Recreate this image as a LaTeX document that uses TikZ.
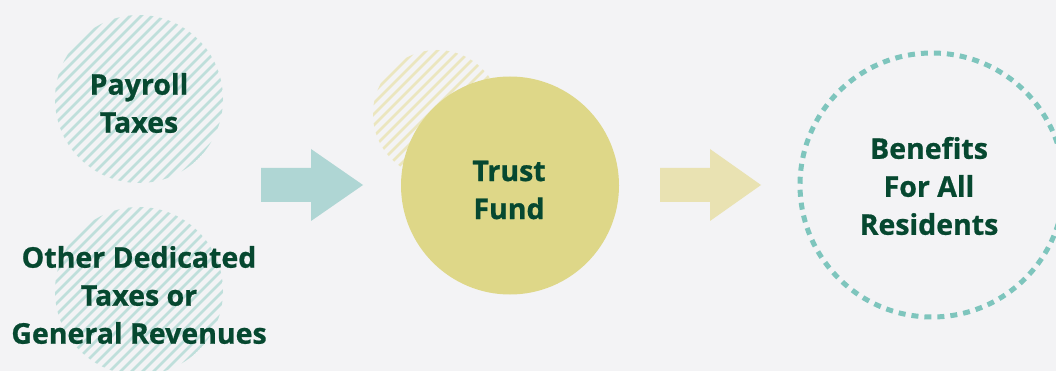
\documentclass[tikz,border=0pt]{standalone}
\usepackage{fontspec}
\setmainfont{Open Sans}[BoldFeatures={FakeBold=0.8}]
\usetikzlibrary{calc}
\definecolor{bgc}{HTML}{F3F3F5}
\definecolor{txt}{HTML}{064830}
\definecolor{tealhatch}{HTML}{BFDFDB}
\definecolor{yelhatch}{HTML}{EBE6BF}
\definecolor{trustc}{HTML}{DED788}
\definecolor{arrowteal}{HTML}{AFD6D4}
\definecolor{arrowyel}{HTML}{E9E2B2}
\definecolor{dashteal}{HTML}{7EC5BD}
\begin{document}
\begin{tikzpicture}[x=1pt,y=-1pt,
  lbl/.style={text=txt,align=center,font=\bfseries\fontsize{28.5}{38}\selectfont,inner sep=0pt},
  hatchline/.style={line width=2.6pt},
  blockarrow/.style={draw=none}]
\useasboundingbox[fill=bgc] (0,0) rectangle (1056,371);
% hatched circles
\begin{scope}
  \clip (139,99) circle[radius=84];
  \foreach \c in {-180,-169,...,180}
    \draw[hatchline,tealhatch] ($(139,99)+(\c-100,100)$) -- ($(139,99)+(\c+100,-100)$);
\end{scope}
\begin{scope}
  \clip (139,291) circle[radius=84];
  \foreach \c in {-180,-169,...,180}
    \draw[hatchline,tealhatch] ($(139,291)+(\c-100,100)$) -- ($(139,291)+(\c+100,-100)$);
\end{scope}
\begin{scope}
  \clip (437,114) circle[radius=64];
  \foreach \c in {-140,-129,...,140}
    \draw[hatchline,yelhatch] ($(437,114)+(\c-80,80)$) -- ($(437,114)+(\c+80,-80)$);
\end{scope}
% trust circle
\fill[trustc] (510,185.5) circle[radius=109];
% benefits dashed circle
\draw[dashteal,line width=5pt,dash pattern=on 7pt off 6pt] (932,185) circle[radius=132];
% arrows
\coordinate (a1) at (261,185);
\coordinate (a2) at (660,185);
\fill[arrowteal] (a1) ++(0,-17) -- ++(50,0) -- ++(0,-19) -- ++(52,36) -- ++(-52,36) -- ++(0,-19) -- ++(-50,0) -- cycle;
\fill[arrowyel] (a2) ++(0,-17) -- ++(50,0) -- ++(0,-19) -- ++(51,36) -- ++(-51,36) -- ++(0,-19) -- ++(-50,0) -- cycle;
% labels
\node[lbl] (payroll) at (139,103) {Payroll\\Taxes};
\node[lbl] (other) at (139,295) {Other Dedicated\\Taxes or\\General Revenues};
\node[lbl] (trust) at (509,190) {Trust\\Fund};
\node[lbl] (benefits) at (929,186) {Benefits\\For All\\Residents};
\end{tikzpicture}
\end{document}
